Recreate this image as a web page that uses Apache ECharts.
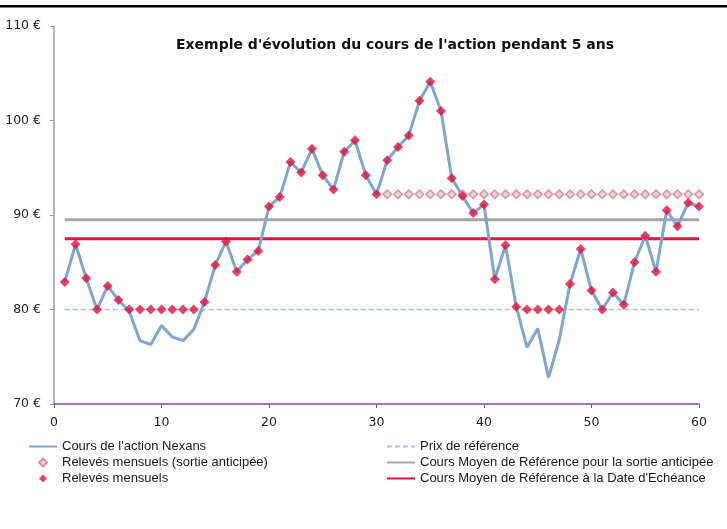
<!DOCTYPE html>
<html>
<head>
<meta charset="utf-8">
<script src="https://cdn.jsdelivr.net/npm/echarts@6/dist/echarts.min.js"></script>
<style>
  html, body { margin: 0; padding: 0; background: #fff; }
  #chart { width: 727px; height: 529px; }
</style>
</head>
<body>
<div id="chart"></div>
<script>
// 数据: 月份 1..60 的股价
const prices = [
  82.9, 86.9, 83.3, 80.0, 82.5, 81.0, 79.8, 76.7, 76.3, 78.3,
  77.1, 76.7, 77.9, 80.8, 84.7, 87.2, 84.0, 85.3, 86.2, 90.9,
  91.9, 95.6, 94.5, 97.0, 94.2, 92.7, 96.7, 97.9, 94.2, 92.2,
  95.8, 97.2, 98.4, 102.1, 104.1, 101.0, 93.9, 92.0, 90.2, 91.1,
  83.2, 86.8, 80.3, 76.0, 78.0, 72.8, 76.8, 82.7, 86.4, 82.0,
  80.0, 81.8, 80.5, 85.0, 87.8, 84.0, 90.5, 88.8, 91.3, 90.9
];
// 月度记录 (低于参考价时取 80)
const releves = [
  82.9, 86.9, 83.3, 80.0, 82.5, 81.0, 80.0, 80.0, 80.0, 80.0,
  80.0, 80.0, 80.0, 80.8, 84.7, 87.2, 84.0, 85.3, 86.2, 90.9,
  91.9, 95.6, 94.5, 97.0, 94.2, 92.7, 96.7, 97.9, 94.2, 92.2,
  95.8, 97.2, 98.4, 102.1, 104.1, 101.0, 93.9, 92.0, 90.2, 91.1,
  83.2, 86.8, 80.3, 80.0, 80.0, 80.0, 80.0, 82.7, 86.4, 82.0,
  80.0, 81.8, 80.5, 85.0, 87.8, 84.0, 90.5, 88.8, 91.3, 90.9
];
// 提前退出记录 (月份 31..60)
const firstEarlyMonth = 31;
const relevesSortie = [
  92.2, 92.2, 92.2, 92.2, 92.2, 92.2, 92.2, 92.2, 92.2, 92.2,
  92.2, 92.2, 92.2, 92.2, 92.2, 92.2, 92.2, 92.2, 92.2, 92.2,
  92.2, 92.2, 92.2, 92.2, 92.2, 92.2, 92.2, 92.2, 92.2, 92.2
];
// 水平参考线
const lineRange = [1, 60];
const prixReference = 80;
const coursMoyenSortie = 89.5;
const coursMoyenEcheance = 87.5;
// 坐标轴
const yTicks = [70, 80, 90, 100, 110];
const xTicks = [0, 10, 20, 30, 40, 50, 60];

const names = [
  "Cours de l'action Nexans",
  'Relevés mensuels (sortie anticipée)',
  'Relevés mensuels',
  'Prix de référence',
  'Cours Moyen de Référence pour la sortie anticipée',
  "Cours Moyen de Référence à la Date d'Echéance"
];

const diamond = 'path://M5,0L10,5L5,10L0,5Z';
const noSymbol = { opacity: 0 };

function toPoints(arr, start) {
  return arr.map((v, i) => [start + i, v]);
}
function hLine(v) {
  return lineRange.map(x => [x, v]);
}

const chart = echarts.init(document.getElementById('chart'));

const legendText = { fontFamily: 'Liberation Sans, Arial', fontSize: 13, color: '#1a1a1a' };

const option = {
  animation: false,
  title: {
    text: "Exemple d'évolution du cours de l'action pendant 5 ans",
    left: 390, top: 33, textAlign: 'center',
    textStyle: { fontFamily: 'DejaVu Sans', fontSize: 14, fontWeight: 'bold', color: '#111' }
  },
  graphic: [{
    type: 'rect', shape: { x: 0, y: 5, width: 727, height: 2.5 },
    style: { fill: '#000' }
  }],
  grid: { left: 54, right: 28, top: 26, bottom: 125 },
  legend: [{
    orient: 'vertical', left: 23, top: 435, itemWidth: 28, itemHeight: 8, itemGap: 3,
    textStyle: legendText,
    data: [
      { name: names[0], itemStyle: noSymbol },
      { name: names[1], icon: diamond },
      { name: names[2], icon: diamond }
    ]
  }, {
    orient: 'vertical', left: 381, top: 435, itemWidth: 28, itemHeight: 8, itemGap: 3,
    textStyle: legendText,
    data: [
      { name: names[3], itemStyle: noSymbol },
      { name: names[4], itemStyle: noSymbol },
      { name: names[5], itemStyle: noSymbol }
    ]
  }],
  xAxis: {
    type: 'value', min: 0, max: 60, interval: 10,
    axisLine: { lineStyle: { color: '#7b4f9f', width: 1.5 } },
    axisTick: { show: true, length: 4, lineStyle: { color: '#7b4f9f' } },
    axisLabel: { margin: 12, fontFamily: 'DejaVu Sans', fontSize: 12.5, color: '#222' },
    splitLine: { show: false }
  },
  yAxis: {
    type: 'value', min: 70, max: 110, interval: 10,
    axisLine: { show: true, lineStyle: { color: '#95a0b0', width: 1.5 } },
    axisTick: { show: true, length: 4, lineStyle: { color: '#95a0b0' } },
    axisLabel: { margin: 13, fontFamily: 'DejaVu Sans', fontSize: 12.5, color: '#222', formatter: '{value} €' },
    splitLine: { show: false }
  },
  series: [
    {
      name: names[3], type: 'line', data: hLine(prixReference), symbol: 'none', z: 1,
      lineStyle: { color: '#b4c0e2', width: 1.5, type: [5, 3] },
      itemStyle: { color: '#b4c0e2' }
    },
    {
      name: names[4], type: 'line', data: hLine(coursMoyenSortie), symbol: 'none', z: 1,
      lineStyle: { color: '#a6a6a6', width: 3 }, itemStyle: { color: '#a6a6a6' }
    },
    {
      name: names[5], type: 'line', data: hLine(coursMoyenEcheance), symbol: 'none', z: 1,
      lineStyle: { color: '#d9173f', width: 3 }, itemStyle: { color: '#d9173f' }
    },
    {
      name: names[0], type: 'line', data: toPoints(prices, 1), symbol: 'none', z: 2,
      lineStyle: { color: '#7fa6d3', width: 3 }, itemStyle: { color: '#7fa6d3' }
    },
    {
      name: names[1], type: 'scatter', data: toPoints(relevesSortie, firstEarlyMonth),
      symbol: 'diamond', symbolSize: 8.5, z: 3,
      itemStyle: { color: '#cfcfcf', borderColor: '#e4768e', borderWidth: 1.5 }
    },
    {
      name: names[2], type: 'scatter', data: toPoints(releves, 1),
      symbol: 'diamond', symbolSize: 10, z: 4,
      itemStyle: { color: '#dc143c' }
    }
  ]
};

option && chart.setOption(option);
</script>
</body>
</html>
